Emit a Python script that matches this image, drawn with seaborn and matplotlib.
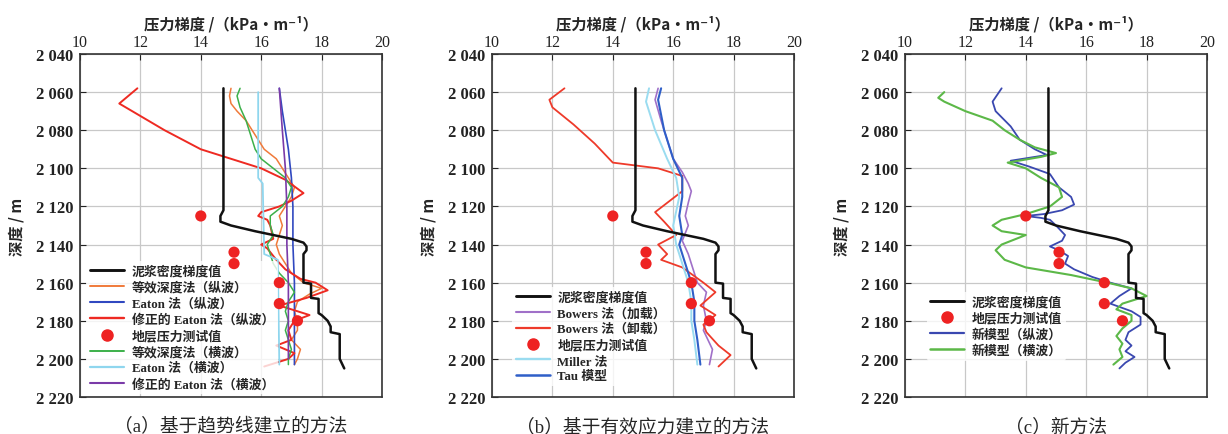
import numpy as np
import pandas as pd
import matplotlib
matplotlib.use("Agg")
import matplotlib.pyplot as plt
import seaborn as sns

sns.set_style("white")
plt.rcParams['font.family'] = ['Liberation Serif', 'Noto Sans CJK SC', 'DejaVu Sans']
plt.rcParams['axes.unicode_minus'] = False

# ---------------- data ----------------
mud_depth = [2058, 2122, 2125, 2128, 2130, 2133, 2135, 2137, 2139, 2141, 2143, 2145, 2150, 2160, 2160.5, 2168, 2168.5, 2176,
             2177, 2180, 2183, 2186, 2187, 2195, 2200, 2205]
mud_grad = [14.75, 14.75, 14.65, 14.65, 15.0, 15.8, 16.4, 17.0, 17.4, 17.5, 17.5, 17.4, 17.4, 17.4, 17.65, 17.65, 17.9, 17.9,
            18.0, 18.2, 18.3, 18.3, 18.6, 18.6, 18.6, 18.75]

test_depth = [2125, 2144, 2150, 2160, 2171, 2180]
test_grad = [14.0, 15.1, 15.1, 16.6, 16.6, 17.2]

# panel a
a_eqd_p_depth = [2058, 2062, 2066, 2070, 2075, 2080, 2085, 2090, 2095, 2100, 2105, 2110, 2115, 2120, 2125, 2130, 2135, 2140,
                 2145, 2150, 2155, 2160, 2163, 2166, 2170, 2175, 2180, 2185, 2190, 2195, 2200, 2203]
a_eqd_p = [15.0, 14.95, 15.0, 15.2, 15.5, 15.7, 15.9, 16.1, 16.5, 16.7, 16.9, 17.1, 17.0, 16.8, 16.6, 16.7, 16.6, 16.5,
           16.6, 16.8, 17.0, 17.4, 18.0, 17.6, 17.2, 17.1, 17.2, 17.2, 17.0, 17.3, 17.2, 17.1]
a_eaton_p_depth = [2058, 2070, 2090, 2105, 2120, 2140, 2160, 2180, 2200, 2203]
a_eaton_p = [16.6, 16.7, 16.9, 17.0, 17.05, 17.05, 17.1, 17.1, 17.1, 17.1]
a_meaton_p_depth = [2058, 2066, 2080, 2090, 2095, 2100, 2106, 2113, 2117, 2120, 2123, 2125, 2127, 2130, 2137, 2140, 2142,
                    2148, 2153, 2158, 2160, 2164, 2168, 2172, 2174, 2177, 2180, 2185, 2190, 2193, 2197, 2200, 2204]
a_meaton_p = [11.9, 11.3, 12.8, 14.0, 15.0, 16.0, 16.8, 17.4, 17.0, 16.6, 16.0, 15.9, 16.2, 16.3, 16.4, 16.0, 16.2,
              16.5, 16.8, 17.3, 17.8, 18.2, 17.5, 16.6, 17.0, 17.6, 17.1, 16.9, 17.0, 16.5, 17.1, 16.9, 16.1]
a_eqd_s_depth = [2058, 2062, 2068, 2075, 2080, 2090, 2095, 2100, 2105, 2110, 2115, 2120, 2125, 2130, 2135, 2140, 2145,
                 2150, 2155, 2160, 2165, 2170, 2175, 2180, 2185, 2190, 2195, 2200, 2203]
a_eqd_s = [15.3, 15.2, 15.3, 15.5, 15.6, 15.8, 16.0, 16.4, 16.8, 17.0, 16.9, 16.7, 16.3, 16.3, 16.4, 16.2, 16.3,
           16.4, 16.6, 16.9, 17.1, 16.9, 16.8, 16.9, 16.8, 16.9, 17.0, 16.9, 16.9]
a_eaton_s_depth = [2060, 2105, 2108, 2145, 2148, 2203]
a_eaton_s = [15.9, 15.9, 16.05, 16.1, 16.55, 16.6]
a_meaton_s_depth = [2058, 2080, 2100, 2120, 2140, 2160, 2180, 2200]
a_meaton_s = [16.6, 16.7, 16.8, 16.85, 16.85, 16.9, 16.9, 16.9]

# panel b
b_bow_load_depth = [2058, 2064, 2075, 2085, 2095, 2102, 2108, 2112, 2118, 2125, 2130, 2138, 2145, 2150, 2160, 2165, 2172,
                    2180, 2185, 2195, 2203]
b_bow_load = [15.5, 15.4, 15.6, 15.8, 16.0, 16.3, 16.5, 16.6, 16.5, 16.4, 16.5, 16.3, 16.5, 16.6, 16.8, 17.1, 17.0,
              17.1, 17.0, 17.3, 17.2]
b_bow_unload_depth = [2058, 2064, 2068, 2077, 2087, 2097, 2100, 2104, 2112, 2123, 2128, 2135, 2140, 2145, 2148, 2152,
                      2160, 2165, 2172, 2177, 2182, 2186, 2193, 2198, 2204]
b_bow_unload = [12.4, 11.9, 12.0, 12.7, 13.4, 14.0, 15.5, 16.3, 16.3, 15.4, 15.7, 16.1, 15.5, 15.8, 15.6, 16.3,
                17.0, 17.4, 16.9, 17.4, 17.0, 17.1, 17.5, 17.9, 17.5]
b_miller_depth = [2058, 2065, 2080, 2095, 2105, 2115, 2130, 2140, 2150, 2160, 2170, 2180, 2190, 2203]
b_miller = [15.2, 15.1, 15.4, 15.8, 16.1, 16.2, 16.0, 16.1, 16.3, 16.5, 16.6, 16.6, 16.7, 16.8]
b_tau_depth = [2058, 2064, 2080, 2095, 2105, 2115, 2125, 2135, 2140, 2150, 2160, 2170, 2180, 2190, 2203]
b_tau = [15.6, 15.5, 15.7, 16.0, 16.3, 16.3, 16.2, 16.3, 16.2, 16.4, 16.6, 16.7, 16.7, 16.8, 16.9]

# panel c
c_new_p_depth = [2058, 2065, 2070, 2078, 2085, 2090, 2093, 2096, 2099, 2103, 2110, 2115, 2119, 2122, 2124, 2125, 2126,
                 2127, 2130, 2135, 2138, 2141, 2143, 2146, 2150, 2153, 2157, 2160, 2163, 2167, 2171, 2175, 2178, 2182,
                 2186, 2190, 2193, 2196, 2199, 2202, 2205]
c_new_p = [13.2, 12.9, 13.0, 13.5, 13.8, 14.3, 14.7, 13.5, 14.1, 14.8, 15.1, 15.5, 15.6, 15.2, 14.6, 14.0, 14.5,
           14.8, 15.0, 15.3, 15.2, 14.8, 15.1, 15.4, 15.3, 15.6, 16.2, 16.8, 17.5, 17.1, 16.8, 17.5, 17.8, 17.8,
           17.4, 17.3, 17.5, 17.3, 17.6, 17.3, 17.1]
c_new_s_depth = [2060, 2063, 2065, 2070, 2075, 2080, 2085, 2089, 2092, 2094, 2097, 2100, 2105, 2110, 2115, 2120, 2124,
                 2127, 2130, 2133, 2135, 2140, 2143, 2148, 2152, 2156, 2160, 2163, 2167, 2171, 2174, 2177, 2180, 2184,
                 2188, 2192, 2195, 2199, 2203]
c_new_s = [11.3, 11.1, 11.3, 12.0, 12.9, 13.3, 13.8, 14.3, 15.0, 14.5, 13.4, 14.0, 14.5, 15.1, 15.2, 14.8, 14.0,
           13.2, 12.9, 13.2, 14.0, 13.2, 13.0, 13.3, 14.0, 15.5, 16.7, 17.5, 18.0, 17.2, 17.0, 17.5, 17.5, 17.2,
           17.0, 17.2, 17.1, 17.2, 16.9]

x_ticks = [10, 12, 14, 16, 18, 20]
y_ticks = [2040, 2060, 2080, 2100, 2120, 2140, 2160, 2180, 2200, 2220]
y_ticklabels = ["2 040", "2 060", "2 080", "2 100", "2 120", "2 140", "2 160", "2 180", "2 200", "2 220"]
captions = ["（a）基于趋势线建立的方法", "（b）基于有效应力建立的方法", "（c）新方法"]
xlabel = "压力梯度 /（kPa·m⁻¹）"
ylabel = "深度 / m"

MUD_LABEL = "泥浆密度梯度值"
TEST_LABEL = "地层压力测试值"

panels = [
    [  # a
        (mud_depth, mud_grad, MUD_LABEL, "#111111", 1.8),
        (a_eqd_p_depth, a_eqd_p, "等效深度法（纵波）", "#f07a3a", 1.1),
        (a_eaton_p_depth, a_eaton_p, "Eaton 法（纵波）", "#3048c0", 1.2),
        (a_meaton_p_depth, a_meaton_p, "修正的 Eaton 法（纵波）", "#ee2a22", 1.4),
        None,
        (a_eqd_s_depth, a_eqd_s, "等效深度法（横波）", "#3cb04a", 1.1),
        (a_eaton_s_depth, a_eaton_s, "Eaton 法（横波）", "#8fd6ee", 1.3),
        (a_meaton_s_depth, a_meaton_s, "修正的 Eaton 法（横波）", "#7a3aa8", 1.2),
    ],
    [  # b
        (mud_depth, mud_grad, MUD_LABEL, "#111111", 1.8),
        (b_bow_load_depth, b_bow_load, "Bowers 法（加载）", "#a070c8", 1.2),
        (b_bow_unload_depth, b_bow_unload, "Bowers 法（卸载）", "#ee3a2a", 1.3),
        None,
        (b_miller_depth, b_miller, "Miller 法", "#9adcf0", 1.4),
        (b_tau_depth, b_tau, "Tau 模型", "#2f5fc8", 1.5),
    ],
    [  # c
        (mud_depth, mud_grad, MUD_LABEL, "#111111", 1.8),
        None,
        (c_new_p_depth, c_new_p, "新模型（纵波）", "#3a48b0", 1.3),
        (c_new_s_depth, c_new_s, "新模型（横波）", "#5cb848", 1.5),
    ],
]

fig = plt.figure(figsize=(12.28, 4.35), dpi=100)
lefts = [80 / 1228, 492 / 1228, 905 / 1228]
width = 302 / 1228
bottom = 37 / 435
height = 343 / 435
legend_anchors = [(0.0, 0.415), (0.045, 0.34), (0.05, 0.325)]

for i, spec in enumerate(panels):
    ax = fig.add_axes([lefts[i], bottom, width, height])
    handles = []
    labels = []
    for item in spec:
        if item is None:
            sns.scatterplot(x=test_grad, y=test_depth, ax=ax, color="#ee2222", s=65,
                            edgecolor="none", zorder=6)
            h = plt.Line2D([], [], marker="o", linestyle="none", color="#ee2222", markersize=8)
            handles.append(h)
            labels.append(TEST_LABEL)
            continue
        d, g, lab, col, lw = item
        df = pd.DataFrame({"depth": d, "grad": g})
        sns.lineplot(data=df, x="grad", y="depth", sort=False, estimator=None, ax=ax,
                     color=col, linewidth=lw, zorder=4 if col == "#111111" else 3)
        handles.append(plt.Line2D([], [], color=col, linewidth=lw + 0.3))
        labels.append(lab)

    ax.set_xlim(10, 20)
    ax.set_ylim(2220, 2040)
    ax.set_xticks(x_ticks)
    ax.set_yticks(y_ticks)
    ax.set_yticklabels(y_ticklabels)
    ax.xaxis.tick_top()
    ax.xaxis.set_label_position("top")
    ax.tick_params(axis="both", direction="in", length=4, colors="#222222",
                   top=True, bottom=False, left=True, right=False)
    ax.tick_params(axis="x", labelsize=11.5, pad=3)
    ax.tick_params(axis="y", labelsize=12, pad=5)
    for lbl in ax.get_yticklabels():
        lbl.set_fontweight("bold")
    ax.set_xlabel(xlabel, fontsize=11, fontweight="bold", labelpad=4,
                  family=['Noto Sans CJK SC', 'DejaVu Sans'])
    ax.set_ylabel(ylabel, fontsize=11, fontweight="bold", labelpad=8,
                  family=['Noto Sans CJK SC', 'DejaVu Sans'])
    ax.grid(True, color="#c8c8c8", linewidth=0.9)
    ax.set_axisbelow(True)
    for sp in ax.spines.values():
        sp.set_color("#333333")
        sp.set_linewidth(1.2)

    leg = ax.legend(handles, labels, loc="upper left", bbox_to_anchor=legend_anchors[i], frameon=True,
                    handlelength=2.6, labelspacing=0.27, borderpad=0.3, handletextpad=0.6,
                    prop={"family": ['Liberation Serif', 'Noto Sans CJK SC'], "size": 9.3, "weight": "bold"})
    leg.get_frame().set_facecolor("white")
    leg.get_frame().set_edgecolor("none")
    leg.get_frame().set_alpha(0.8)
    leg.set_zorder(5)

    ax.text(0.5, -0.085, captions[i], transform=ax.transAxes, ha="center", va="center",
            fontsize=13.5, family=['Liberation Serif', 'Noto Sans CJK SC'])

fig.savefig("out.png", dpi=100)
